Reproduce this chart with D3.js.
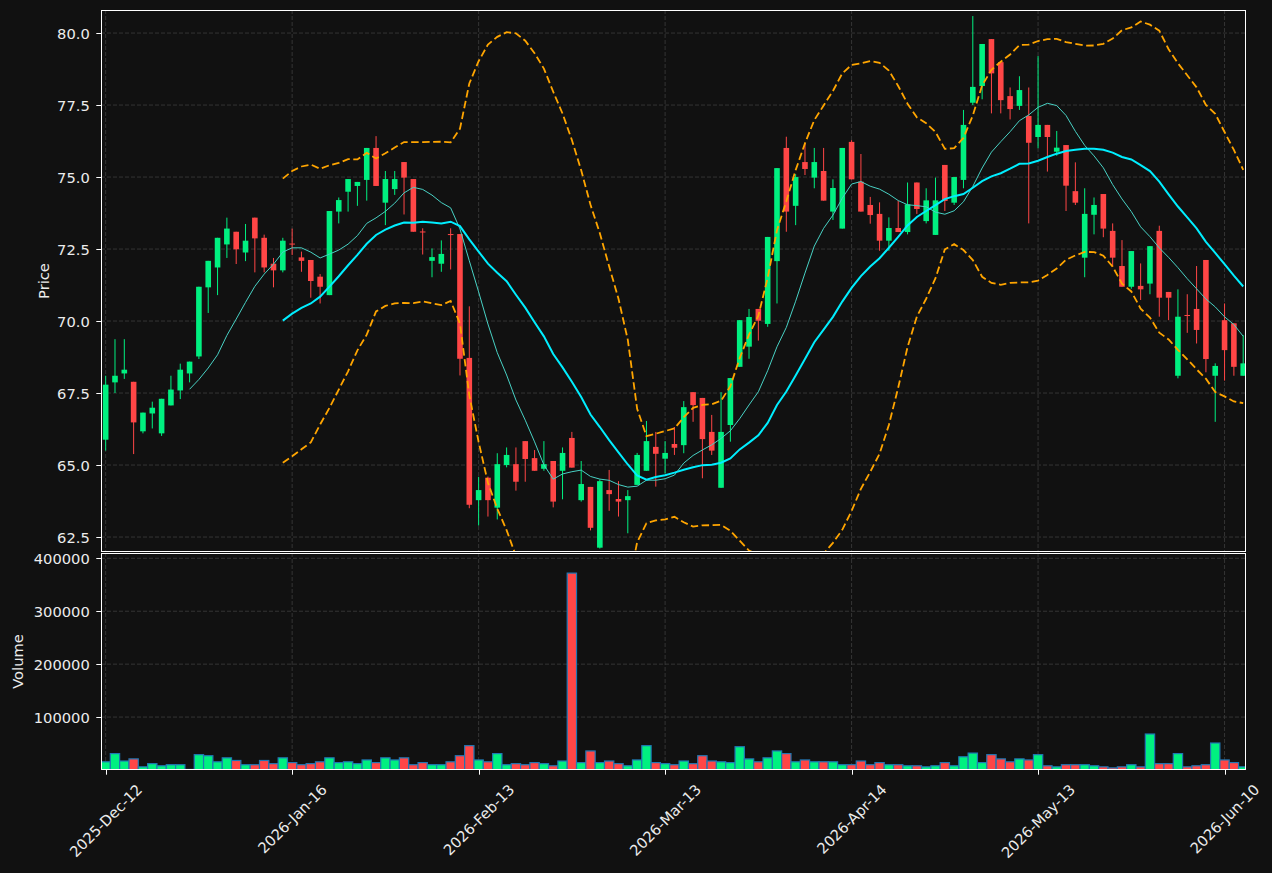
<!DOCTYPE html>
<html>
<head>
<meta charset="utf-8">
<script src="https://cdn.jsdelivr.net/npm/d3@7"></script>
<style>
  body { margin: 0; background: #111111; }
  svg { display: block; }
  text { font-family: "DejaVu Sans", sans-serif; fill: #ececec; }
</style>
</head>
<body>
<svg id="chart" width="1272" height="873"></svg>
<script>
// Daily OHLCV, one entry per trading session (index 0 = 2025-Dec-12)
const opens = [
  65.88, 67.87, 68.18, 67.89, 66.17, 66.79, 66.10, 67.07, 67.59, 68.18,
  68.77, 71.17, 71.86, 72.66, 73.10, 72.38, 73.59, 72.89, 71.99, 71.76,
  72.69, 72.21, 72.12, 71.54, 70.90, 73.80, 74.49, 74.69, 74.90, 76.01,
  74.11, 74.58, 75.52, 74.93, 73.11, 72.09, 71.99, 73.02, 73.02, 68.72,
  63.78, 64.56, 63.52, 65.00, 65.03, 65.83, 65.24, 64.87, 65.14, 64.80,
  65.94, 63.78, 64.24, 62.13, 64.13, 63.82, 63.78, 64.31, 64.80, 65.63,
  65.22, 65.73, 65.69, 67.53, 67.33, 66.15, 64.21, 66.39, 68.41, 69.11,
  70.42, 69.90, 72.08, 76.01, 74.00, 75.52, 74.98, 75.21, 73.80, 73.21,
  76.22, 74.84, 74.03, 73.72, 72.79, 73.23, 73.09, 74.81, 73.47, 72.99,
  75.42, 74.11, 74.90, 77.58, 78.16, 79.79, 78.99, 77.81, 77.47, 77.12,
  76.39, 76.81, 75.88, 76.11, 74.51, 72.20, 73.69, 74.41, 73.13, 71.91,
  71.19, 71.22, 71.30, 73.13, 71.01, 68.10, 70.21, 70.42, 72.12, 68.10,
  70.03, 69.92, 68.10
];
const highs = [
  68.10, 69.37, 69.37, 67.89, 66.82, 67.20, 67.30, 68.10, 68.52, 68.59,
  71.19, 72.09, 72.89, 73.59, 73.10, 73.37, 73.59, 73.00, 72.19, 72.89,
  73.21, 72.41, 72.12, 71.63, 73.82, 74.29, 74.93, 74.83, 76.01, 76.42,
  75.21, 75.21, 75.52, 74.93, 73.22, 72.52, 72.80, 73.22, 73.02, 70.51,
  64.59, 64.60, 65.41, 65.61, 65.61, 65.83, 65.52, 65.83, 65.14, 65.61,
  66.15, 65.14, 64.24, 64.50, 64.83, 64.44, 64.13, 65.42, 66.53, 66.15,
  65.83, 66.32, 67.22, 67.53, 67.33, 66.74, 67.53, 68.02, 70.03, 70.42,
  70.42, 72.92, 75.31, 76.40, 75.10, 76.17, 76.01, 76.01, 74.92, 76.01,
  76.28, 75.80, 74.31, 74.12, 73.60, 74.17, 74.81, 74.81, 74.61, 74.98,
  75.42, 75.00, 77.33, 80.59, 79.62, 79.79, 78.99, 78.11, 78.50, 78.11,
  79.20, 76.81, 76.60, 76.11, 75.51, 74.61, 74.29, 74.41, 73.39, 72.81,
  72.43, 72.00, 72.60, 73.31, 71.01, 71.10, 70.93, 71.91, 72.12, 68.53,
  70.61, 69.92, 69.51
];
const lows = [
  65.50, 67.50, 67.99, 65.38, 66.10, 66.27, 66.01, 67.07, 67.29, 67.87,
  68.68, 70.28, 70.90, 72.19, 71.98, 72.08, 71.69, 71.69, 71.17, 71.69,
  72.29, 71.71, 70.81, 70.61, 70.90, 73.39, 73.80, 74.00, 74.18, 74.69,
  73.33, 74.38, 73.70, 73.10, 72.31, 71.52, 71.71, 71.79, 68.11, 63.50,
  62.90, 63.21, 63.11, 64.92, 64.11, 64.42, 64.80, 64.80, 63.53, 63.81,
  64.91, 63.73, 62.73, 62.10, 63.41, 63.21, 62.63, 64.31, 64.80, 64.25,
  64.71, 65.35, 65.41, 66.50, 64.54, 65.35, 64.21, 65.81, 68.41, 68.69,
  69.32, 69.80, 70.61, 73.10, 73.33, 75.07, 74.61, 74.18, 73.51, 73.21,
  74.92, 73.80, 73.38, 72.44, 72.44, 73.09, 73.01, 73.72, 73.39, 72.99,
  73.82, 74.03, 74.61, 77.50, 77.70, 77.21, 77.21, 77.00, 77.33, 73.39,
  76.00, 75.19, 75.74, 73.82, 74.03, 71.52, 73.01, 72.91, 71.89, 71.19,
  71.12, 70.73, 70.93, 70.15, 70.03, 68.01, 69.59, 69.22, 68.22, 66.50,
  67.93, 68.10, 68.10
];
const closes = [
  67.79, 68.10, 68.31, 66.48, 66.82, 66.99, 67.30, 67.62, 68.31, 68.59,
  71.19, 72.09, 72.89, 73.21, 72.49, 72.79, 72.87, 71.86, 71.76, 72.79,
  72.67, 72.09, 71.39, 71.19, 73.82, 74.20, 74.93, 74.83, 76.01, 74.69,
  74.93, 74.93, 74.98, 73.10, 73.10, 72.22, 72.33, 73.01, 68.69, 63.62,
  64.13, 63.78, 65.03, 65.35, 64.42, 65.21, 64.80, 65.03, 63.73, 65.42,
  64.91, 64.34, 62.82, 64.44, 63.99, 63.73, 63.92, 65.35, 65.83, 65.39,
  65.42, 65.60, 67.01, 67.08, 65.90, 65.50, 66.15, 68.02, 70.03, 70.14,
  70.01, 72.92, 75.31, 73.80, 75.00, 75.28, 75.52, 74.18, 74.62, 76.01,
  74.92, 73.80, 73.68, 72.79, 73.23, 73.09, 74.05, 73.89, 74.19, 74.19,
  74.17, 75.00, 76.81, 78.13, 79.62, 78.60, 77.67, 77.36, 78.02, 76.19,
  76.81, 76.39, 76.02, 74.70, 74.11, 73.72, 74.03, 73.21, 72.20, 71.19,
  72.43, 71.10, 72.60, 70.81, 70.81, 70.15, 70.20, 69.69, 68.68, 68.44,
  68.99, 68.41, 68.53
];
const volumes = [
  15500, 31000, 17000, 21000, 6000, 12000, 8000, 10000, 10000, 1000,
  29000, 27000, 15500, 23000, 18000, 10000, 10000, 18000, 12000, 23000,
  14000, 10000, 12000, 15500, 23000, 14000, 15500, 12000, 19000, 14000,
  23000, 19000, 23000, 10000, 14000, 10000, 10000, 15500, 27000, 46000,
  19000, 15500, 31000, 10000, 12000, 10000, 14000, 12000, 8000, 17000,
  372000, 14000, 36000, 14000, 17000, 12000, 8000, 19000, 46000, 14000,
  12000, 10000, 17000, 12000, 27000, 17000, 15500, 14000, 44000, 21000,
  15500, 23000, 36000, 31000, 15500, 19000, 15500, 15500, 15500, 10000,
  10000, 17000, 10000, 14000, 10000, 10000, 8000, 8000, 6000, 8000,
  14000, 8000, 25000, 32000, 14000, 29000, 21000, 15500, 21000, 19000,
  29000, 8000, 6000, 10000, 10000, 10000, 8000, 6000, 4000, 6000,
  10000, 6000, 68000, 12000, 12000, 31000, 6000, 8000, 10000, 51000,
  19000, 14000, 6000
];

const tickIndex = [0, 20, 40, 60, 80, 100, 120];
const tickLabels = ['2025-Dec-12', '2026-Jan-16', '2026-Feb-13', '2026-Mar-13',
                    '2026-Apr-14', '2026-May-13', '2026-Jun-10'];
const priceTicks = [62.5, 65, 67.5, 70, 72.5, 75, 77.5, 80];
const volumeTicks = [100000, 200000, 300000, 400000];

const UP = '#00f080';
const DOWN = '#ff4646';
const FS = 14.7;

const svg = d3.select('#chart');
svg.append('rect').attr('width', 1272).attr('height', 873).attr('fill', '#111111');

const L = 101, R = 1246;
const P = { top: 10, bottom: 552 };
const V = { top: 553, bottom: 770 };

const x = d3.scaleLinear().domain([-0.5, 122.3]).range([L, R]);
const step = x(1) - x(0);
const y = d3.scaleLinear().domain([61.98, 80.8]).range([P.bottom, P.top]);
const yv = d3.scaleLinear().domain([0, 410000]).range([V.bottom, V.top]);

// Rolling indicators from the closes
function rolling(n, fn) {
  return closes.map((_, i) => i < n - 1 ? null : fn(closes.slice(i - n + 1, i + 1)));
}
const ma10 = rolling(10, w => d3.mean(w));
const ma20 = rolling(20, w => d3.mean(w));
const sd20 = rolling(20, w => {
  const m = d3.mean(w);
  return Math.sqrt(d3.mean(w, v => (v - m) ** 2));
});
const upper = ma20.map((m, i) => m == null ? null : m + 2 * sd20[i]);
const lower = ma20.map((m, i) => m == null ? null : m - 2 * sd20[i]);

const defs = svg.append('defs');
defs.append('clipPath').attr('id', 'clipP').append('rect')
  .attr('x', L).attr('y', P.top).attr('width', R - L).attr('height', P.bottom - P.top);
defs.append('clipPath').attr('id', 'clipV').append('rect')
  .attr('x', L).attr('y', V.top).attr('width', R - L).attr('height', V.bottom - V.top);

// Grid
const grid = svg.append('g')
  .attr('stroke', '#3d3d3d').attr('stroke-width', 0.8).attr('stroke-dasharray', '4,2');
grid.selectAll('.gx').data(tickIndex).join('line')
  .attr('x1', d => x(d)).attr('x2', d => x(d)).attr('y1', P.top).attr('y2', P.bottom);
grid.selectAll('.gxv').data(tickIndex).join('line')
  .attr('x1', d => x(d)).attr('x2', d => x(d)).attr('y1', V.top).attr('y2', V.bottom);
grid.selectAll('.gy').data(priceTicks).join('line')
  .attr('x1', L).attr('x2', R).attr('y1', d => y(d)).attr('y2', d => y(d));
grid.selectAll('.gyv').data(volumeTicks).join('line')
  .attr('x1', L).attr('x2', R).attr('y1', d => yv(d)).attr('y2', d => yv(d));

// Candles
const idx = d3.range(closes.length);
const colorOf = i => closes[i] >= opens[i] ? UP : DOWN;
const gC = svg.append('g').attr('clip-path', 'url(#clipP)');
gC.selectAll('line.wick').data(idx).join('line')
  .attr('class', 'wick')
  .attr('x1', i => x(i)).attr('x2', i => x(i))
  .attr('y1', i => y(highs[i])).attr('y2', i => y(lows[i]))
  .attr('stroke', colorOf).attr('stroke-width', 1);
const bw = step * 0.6;
gC.selectAll('rect.body').data(idx).join('rect')
  .attr('class', 'body')
  .attr('x', i => x(i) - bw / 2)
  .attr('width', bw)
  .attr('y', i => y(Math.max(opens[i], closes[i])))
  .attr('height', i => Math.max(1, Math.abs(y(opens[i]) - y(closes[i]))))
  .attr('fill', colorOf);

// Indicator lines
const lineFor = arr => d3.line()
  .defined(i => arr[i] != null)
  .x(i => x(i)).y(i => y(arr[i]))(idx);
const gL = svg.append('g').attr('clip-path', 'url(#clipP)').attr('fill', 'none');
gL.append('path').attr('d', lineFor(ma10)).attr('stroke', '#48d1c4').attr('stroke-width', 1);
gL.append('path').attr('d', lineFor(ma20)).attr('stroke', '#00eeff').attr('stroke-width', 2);
[upper, lower].forEach(arr => {
  gL.append('path').attr('d', lineFor(arr))
    .attr('stroke', '#ffa500').attr('stroke-width', 1.8)
    .attr('stroke-dasharray', '7.5,3.5');
});

// Volume bars
svg.append('g').attr('clip-path', 'url(#clipV)')
  .selectAll('rect').data(idx).join('rect')
  .attr('x', i => x(i) - step / 2)
  .attr('width', step)
  .attr('y', i => yv(volumes[i]))
  .attr('height', i => yv(0) - yv(volumes[i]))
  .attr('fill', colorOf)
  .attr('stroke', '#1f77b4').attr('stroke-width', 1.2);

// Frames (pixel-aligned so the white spines stay crisp)
[P, V].forEach(p => {
  svg.append('rect')
    .attr('x', L + 0.5).attr('y', p.top + 0.5)
    .attr('width', R - L - 1).attr('height', p.bottom - p.top - 1)
    .attr('fill', 'none').attr('stroke', '#ffffff').attr('stroke-width', 1)
    .attr('shape-rendering', 'crispEdges');
});

// Y axes
const tickLen = 4.7;
function yAxis(scale, ticks, fmt) {
  const g = svg.append('g');
  g.selectAll('line').data(ticks).join('line')
    .attr('x1', L - tickLen).attr('x2', L)
    .attr('y1', d => Math.round(scale(d)) + 0.5).attr('y2', d => Math.round(scale(d)) + 0.5)
    .attr('stroke', '#ffffff');
  g.selectAll('text').data(ticks).join('text')
    .attr('x', L - tickLen - 6.5).attr('y', d => scale(d))
    .attr('text-anchor', 'end').attr('dominant-baseline', 'central')
    .attr('font-size', FS)
    .text(fmt);
}
yAxis(y, priceTicks, d3.format('.1f'));
yAxis(yv, volumeTicks, d3.format('d'));

svg.append('text').attr('transform', `translate(43,${(P.top + P.bottom) / 2}) rotate(-90)`)
  .attr('text-anchor', 'middle').attr('dominant-baseline', 'central')
  .attr('font-size', FS).text('Price');
svg.append('text').attr('transform', `translate(17,${(V.top + V.bottom) / 2}) rotate(-90)`)
  .attr('text-anchor', 'middle').attr('dominant-baseline', 'central')
  .attr('font-size', FS).text('Volume');

// X axis: ticks and 45-degree labels centred under each tick
const gx = svg.append('g');
gx.selectAll('line').data(tickIndex).join('line')
  .attr('x1', d => Math.round(x(d)) + 0.5).attr('x2', d => Math.round(x(d)) + 0.5)
  .attr('y1', V.bottom).attr('y2', V.bottom + tickLen)
  .attr('stroke', '#ffffff');
gx.selectAll('text').data(tickIndex).join('text')
  .attr('text-anchor', 'middle').attr('dominant-baseline', 'central')
  .attr('font-size', FS)
  .text((d, k) => tickLabels[k])
  .each(function (d) {
    const w = this.getComputedTextLength();
    const cy = 783 + 0.3536 * (w + FS * 0.72);
    d3.select(this).attr('transform', `translate(${x(d)},${cy}) rotate(-45)`);
  });
</script>
</body>
</html>
